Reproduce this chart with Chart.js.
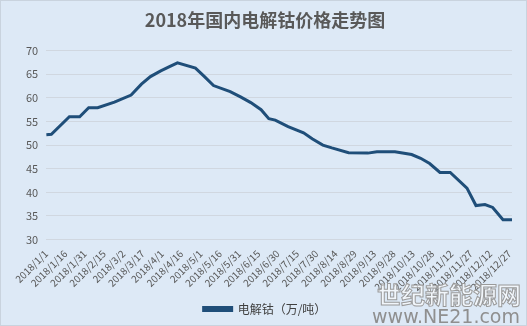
<!DOCTYPE html>
<html>
<head>
<meta charset="utf-8">
<script src="https://cdn.jsdelivr.net/npm/chart.js@4/dist/chart.umd.min.js"></script>
<style>
  html, body { margin: 0; padding: 0; background: #dce8f5; }
  #wrap { width: 525px; height: 324px; border: 1px solid #c9d3de; background: #dde9f6; position: relative; }
</style>
</head>
<body>
<div id="wrap"><canvas id="cobaltChart" width="525" height="324"></canvas></div>
<script>
// 2018 domestic electrolytic cobalt price (万/吨)
const priceDates = [
  '2018-01-01', '2018-01-05', '2018-01-19', '2018-01-27', '2018-02-03', '2018-02-10',
  '2018-02-23', '2018-03-08', '2018-03-16', '2018-03-23', '2018-03-31', '2018-04-06',
  '2018-04-13', '2018-04-27', '2018-05-04', '2018-05-11', '2018-05-24', '2018-06-01',
  '2018-06-09', '2018-06-17', '2018-06-23', '2018-06-28', '2018-07-08', '2018-07-20',
  '2018-07-27', '2018-08-04', '2018-08-11', '2018-08-24', '2018-09-08', '2018-09-15',
  '2018-09-29', '2018-10-12', '2018-10-19', '2018-10-26', '2018-11-03', '2018-11-11',
  '2018-11-24', '2018-12-01', '2018-12-08', '2018-12-14', '2018-12-22', '2018-12-29'
];
const cobaltPrices = [
  52.2, 52.3, 56.0, 56.0, 57.9, 57.9,
  59.1, 60.6, 62.9, 64.5, 65.7, 66.5,
  67.4, 66.3, 64.5, 62.6, 61.3, 60.2,
  59.0, 57.5, 55.6, 55.3, 53.9, 52.6,
  51.3, 50.0, 49.4, 48.4, 48.3, 48.6,
  48.6, 48.0, 47.2, 46.1, 44.2, 44.2,
  40.9, 37.2, 37.4, 36.8, 34.2, 34.2
];
const tickDates = [
  '2018/1/1', '2018/1/16', '2018/1/31', '2018/2/15', '2018/3/2', '2018/3/17', '2018/4/1',
  '2018/4/16', '2018/5/1', '2018/5/16', '2018/5/31', '2018/6/15', '2018/6/30', '2018/7/15',
  '2018/7/30', '2018/8/14', '2018/8/29', '2018/9/13', '2018/9/28', '2018/10/13', '2018/10/28',
  '2018/11/12', '2018/11/27', '2018/12/12', '2018/12/27'
];
const yTicks = [30, 35, 40, 45, 50, 55, 60, 65, 70];

const DAY = 86400000;
const start = Date.UTC(2018, 0, 1);
const dayOf = (s) => {
  const p = s.split(/[-\/]/).map(Number);
  return Math.round((Date.UTC(p[0], p[1] - 1, p[2]) - start) / DAY);
};
const tickDays = tickDates.map(dayOf);
const points = priceDates.map((d, i) => ({ x: dayOf(d), y: cobaltPrices[i] }));

const watermark = {
  id: 'watermark',
  afterDraw(chart) {
    const ctx = chart.ctx;
    ctx.save();
    ctx.textAlign = 'right';
    ctx.strokeStyle = '#9a9a9a';
    ctx.fillStyle = 'rgba(255,255,255,0.6)';
    ctx.lineWidth = 1;
    ctx.font = 'bold 24px "Noto Sans CJK SC"';
    ctx.fillText('世纪新能源网', 520, 294);
    ctx.strokeText('世纪新能源网', 520, 294);
    ctx.font = '19px "DejaVu Sans"';
    ctx.fillStyle = '#8f8f8f';
    ctx.fillText('www.NE21.com', 519, 317);
    ctx.restore();
  }
};

new Chart(document.getElementById('cobaltChart'), {
  type: 'line',
  data: {
    datasets: [{
      label: '电解钴（万/吨）',
      data: points,
      borderColor: '#1f4e79',
      backgroundColor: '#1f4e79',
      borderWidth: 3,
      pointRadius: 0,
      tension: 0
    }]
  },
  options: {
    responsive: false,
    animation: false,
    layout: { padding: { left: 17, right: 14, top: 4, bottom: 0 } },
    scales: {
      x: {
        type: 'linear',
        min: 0,
        max: 362,
        afterBuildTicks: (scale) => { scale.ticks = tickDays.map(v => ({ value: v })); },
        ticks: {
          autoSkip: false,
          minRotation: 45,
          maxRotation: 45,
          padding: 0,
          color: '#595959',
          font: { size: 10, family: 'Noto Sans CJK SC' },
          callback: (v, i) => tickDates[i]
        },
        grid: { display: false },
        border: { display: false }
      },
      y: {
        min: 30,
        max: 70,
        afterBuildTicks: (scale) => { scale.ticks = yTicks.map(v => ({ value: v })); },
        ticks: {
          color: '#595959',
          font: { size: 11, family: 'Noto Sans CJK SC' },
          padding: 8
        },
        grid: { color: '#d0d7e0', drawTicks: false },
        border: { display: false }
      }
    },
    plugins: {
      title: {
        display: true,
        text: '2018年国内电解钴价格走势图',
        color: '#595959',
        font: { size: 18, weight: 'bold', family: 'Noto Sans CJK SC' },
        padding: { top: 4, bottom: 20 }
      },
      legend: {
        position: 'bottom',
        labels: {
          color: '#404040',
          font: { size: 12, family: 'Noto Sans CJK SC' },
          boxWidth: 28,
          boxHeight: 3,
          padding: 10
        }
      },
      tooltip: { enabled: false }
    }
  },
  plugins: [watermark]
});
</script>
</body>
</html>
